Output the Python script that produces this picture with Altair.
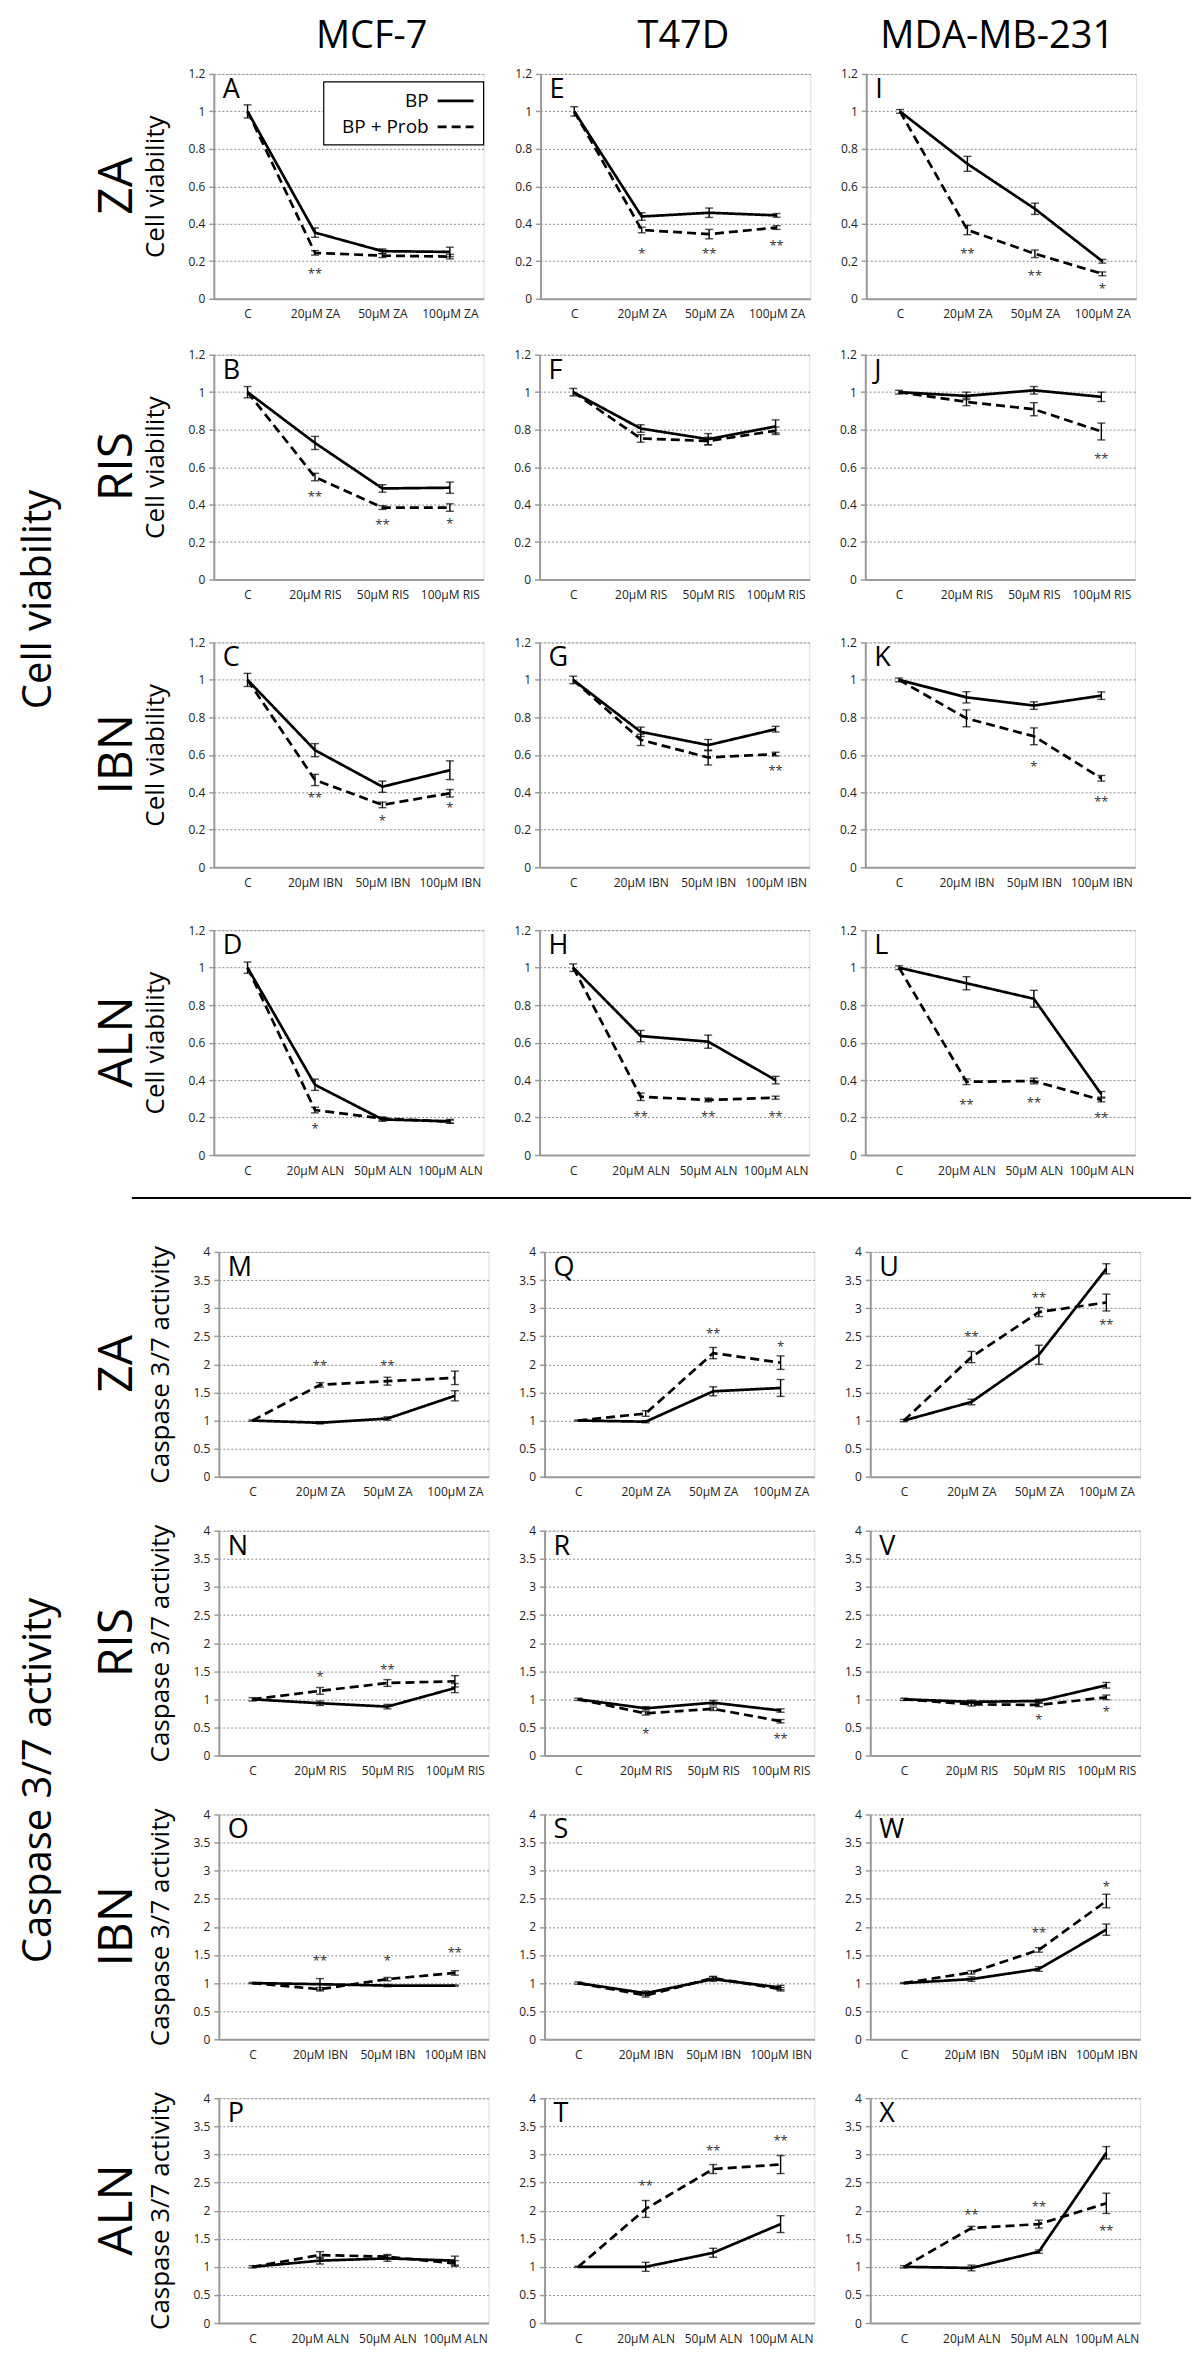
import altair as alt
import pandas as pd

FONT = "Open Sans"
INK = "black"
AXIS_GRAY = "#9a9a9a"

CELL_LINES = ["MCF-7", "T47D", "MDA-MB-231"]
HEADER_DX = [23, 8, -4]
DRUGS = ["ZA", "RIS", "IBN", "ALN"]
DOSES = ["C", "20μM", "50μM", "100μM"]
SERIES = ["BP", "BP + Prob"]
SECTION_TITLES = ["Cell viability", "Caspase 3/7 activity"]

CV_LETTERS = list("ABCDEFGHIJKL")
CA_LETTERS = list("MNOPQRSTUVWX")
CV_TICKS = [0, 0.2, 0.4, 0.6, 0.8, 1, 1.2]
CA_TICKS = [0, 0.5, 1, 1.5, 2, 2.5, 3, 3.5, 4]

# Cell viability, panels A-L (A-D MCF-7, E-H T47D, I-L MDA-MB-231; rows ZA, RIS, IBN, ALN)
CV_BP = [
    [1.0, 0.353, 0.254, 0.25],
    [1.0, 0.729, 0.486, 0.49],
    [1.0, 0.625, 0.43, 0.518],
    [1.0, 0.375, 0.19, 0.18],
    [1.0, 0.439, 0.459, 0.445],
    [1.0, 0.806, 0.749, 0.817],
    [1.0, 0.723, 0.652, 0.737],
    [1.0, 0.635, 0.605, 0.40],
    [1.0, 0.72, 0.48, 0.2],
    [1.0, 0.98, 1.01, 0.975],
    [1.0, 0.907, 0.863, 0.916],
    [1.0, 0.917, 0.834, 0.324],
]
CV_BP_ERR = [
    [0.035, 0.025, 0.012, 0.025],
    [0.03, 0.035, 0.02, 0.03],
    [0.035, 0.035, 0.03, 0.05],
    [0.03, 0.03, 0.01, 0.01],
    [0.025, 0.02, 0.025, 0.01],
    [0.02, 0.02, 0.03, 0.035],
    [0.02, 0.025, 0.03, 0.015],
    [0.02, 0.03, 0.035, 0.02],
    [0.01, 0.04, 0.03, 0.01],
    [0.01, 0.02, 0.02, 0.025],
    [0.01, 0.03, 0.02, 0.02],
    [0.01, 0.035, 0.045, 0.015],
]
CV_PROB = [
    [1.0, 0.245, 0.23, 0.225],
    [1.0, 0.547, 0.384, 0.384],
    [1.0, 0.466, 0.333, 0.395],
    [1.0, 0.24, 0.195, 0.178],
    [1.0, 0.367, 0.345, 0.38],
    [1.0, 0.753, 0.739, 0.794],
    [1.0, 0.68, 0.586, 0.604],
    [1.0, 0.311, 0.294, 0.306],
    [1.0, 0.367, 0.24, 0.133],
    [1.0, 0.948, 0.909, 0.79],
    [1.0, 0.795, 0.699, 0.475],
    [1.0, 0.391, 0.395, 0.294],
]
CV_PROB_ERR = [
    [0, 0.012, 0.01, 0.012],
    [0, 0.02, 0.01, 0.02],
    [0, 0.03, 0.015, 0.02],
    [0, 0.015, 0.008, 0.008],
    [0, 0.015, 0.025, 0.01],
    [0, 0.02, 0.02, 0.02],
    [0, 0.03, 0.04, 0.01],
    [0, 0.02, 0.01, 0.008],
    [0, 0.025, 0.02, 0.01],
    [0, 0.02, 0.035, 0.045],
    [0, 0.045, 0.045, 0.015],
    [0, 0.015, 0.015, 0.01],
]
CV_STARS = [
    [(1, "**", 0.146)],
    [(1, "**", 0.455), (2, "**", 0.306), (3, "*", 0.312)],
    [(1, "**", 0.388), (2, "*", 0.263), (3, "*", 0.332)],
    [(1, "*", 0.155)],
    [(1, "*", 0.255), (2, "**", 0.255), (3, "**", 0.296)],
    [],
    [(3, "**", 0.53)],
    [(1, "**", 0.218), (2, "**", 0.218), (3, "**", 0.218)],
    [(1, "**", 0.257), (2, "**", 0.14), (3, "*", 0.07)],
    [(3, "**", 0.66)],
    [(2, "*", 0.55), (3, "**", 0.363)],
    [(1, "**", 0.283), (2, "**", 0.294), (3, "**", 0.214)],
]

# Caspase 3/7 activity, panels M-X
CA_BP = [
    [1.0, 0.96, 1.035, 1.44],
    [1.0, 0.93, 0.87, 1.2],
    [1.0, 0.98, 0.955, 0.955],
    [1.0, 1.11, 1.15, 1.11],
    [1.0, 0.98, 1.52, 1.58],
    [1.0, 0.84, 0.94, 0.80],
    [1.0, 0.82, 1.07, 0.92],
    [1.0, 1.0, 1.25, 1.76],
    [1.0, 1.33, 2.17, 3.70],
    [1.0, 0.955, 0.97, 1.25],
    [1.0, 1.07, 1.25, 1.95],
    [1.0, 0.98, 1.27, 3.03],
]
CA_BP_ERR = [
    [0.01, 0.02, 0.03, 0.09],
    [0.03, 0.04, 0.04, 0.08],
    [0.01, 0.1, 0.02, 0.01],
    [0.02, 0.06, 0.05, 0.08],
    [0.01, 0.02, 0.08, 0.15],
    [0.02, 0.03, 0.04, 0.03],
    [0.02, 0.04, 0.04, 0.04],
    [0.01, 0.08, 0.08, 0.15],
    [0.02, 0.05, 0.17, 0.09],
    [0.02, 0.03, 0.03, 0.05],
    [0.01, 0.04, 0.04, 0.1],
    [0.02, 0.05, 0.03, 0.11],
]
CA_PROB = [
    [1.0, 1.635, 1.70, 1.76],
    [1.0, 1.15, 1.29, 1.32],
    [1.0, 0.89, 1.07, 1.18],
    [1.0, 1.21, 1.18, 1.06],
    [1.0, 1.125, 2.2, 2.03],
    [1.0, 0.75, 0.83, 0.61],
    [1.0, 0.78, 1.09, 0.89],
    [1.0, 2.03, 2.74, 2.82],
    [1.0, 2.13, 2.93, 3.1],
    [1.0, 0.91, 0.9, 1.035],
    [1.0, 1.19, 1.59, 2.46],
    [1.0, 1.69, 1.76, 2.13],
]
CA_PROB_ERR = [
    [0, 0.04, 0.07, 0.12],
    [0, 0.06, 0.06, 0.1],
    [0, 0.03, 0.03, 0.04],
    [0, 0.06, 0.04, 0.05],
    [0, 0.05, 0.1, 0.12],
    [0, 0.03, 0.03, 0.03],
    [0, 0.03, 0.03, 0.03],
    [0, 0.15, 0.08, 0.16],
    [0, 0.1, 0.08, 0.15],
    [0, 0.03, 0.03, 0.04],
    [0, 0.03, 0.04, 0.12],
    [0, 0.03, 0.07, 0.18],
]
CA_STARS = [
    [(1, "**", 2.03), (2, "**", 2.03)],
    [(1, "*", 1.455), (2, "**", 1.58)],
    [(1, "**", 1.45), (2, "*", 1.45), (3, "**", 1.58)],
    [],
    [(2, "**", 2.6), (3, "*", 2.37)],
    [(1, "*", 0.44), (3, "**", 0.34)],
    [],
    [(1, "**", 2.5), (2, "**", 3.12), (3, "**", 3.3)],
    [(1, "**", 2.54), (2, "**", 3.24), (3, "**", 2.76)],
    [(2, "*", 0.69), (3, "*", 0.82)],
    [(2, "**", 1.94), (3, "*", 2.77)],
    [(1, "**", 1.98), (2, "**", 2.11), (3, "**", 1.69)],
]

W, H = 270, 225
ONE = pd.DataFrame({"a": [0]})
NO_FRAME = alt.ViewBackground(stroke="transparent", strokeWidth=0)


def panel(section, col, row):
    i = col * 4 + row
    drug = DRUGS[row]
    cats = ["C"] + [f"{d} {drug}" for d in DOSES[1:]]
    if section == 0:
        bp, bpe, pr, pre, stars = CV_BP[i], CV_BP_ERR[i], CV_PROB[i], CV_PROB_ERR[i], CV_STARS[i]
        letter, ticks, ymax, drug_x = CV_LETTERS[i], CV_TICKS, 1.2, -96
    else:
        bp, bpe, pr, pre, stars = CA_BP[i], CA_BP_ERR[i], CA_PROB[i], CA_PROB_ERR[i], CA_STARS[i]
        letter, ticks, ymax, drug_x = CA_LETTERS[i], CA_TICKS, 4, -101

    recs = []
    for s, vals, errs in ((SERIES[0], bp, bpe), (SERIES[1], pr, pre)):
        for c, v, e in zip(cats, vals, errs):
            recs.append(dict(cat=c, series=s, value=v, lo=v - e, hi=v + e, err=e))
    df = pd.DataFrame(recs)
    edf = df[df["err"] > 0]

    xaxis = alt.Axis(title=None, labelAngle=0, ticks=False, grid=False, labelPadding=10,
                     labelFontSize=12, labelColor="#222", labelFont=FONT,
                     domainColor=AXIS_GRAY, domainWidth=2, minExtent=22, labelOverlap=False)
    xenc = alt.X("cat:N", sort=cats, scale=alt.Scale(type="point", padding=0.5), axis=xaxis)
    yscale = alt.Scale(domain=[0, ymax], nice=False)
    common = dict(values=ticks, format="~g", grid=True, gridColor="#8c8c8c", gridDash=[2, 2],
                  gridWidth=1, ticks=True, tickSize=5, tickColor=AXIS_GRAY, tickWidth=1.5,
                  domainColor=AXIS_GRAY, domainWidth=2, labelPadding=4, labelFontSize=12,
                  labelColor="#222", labelFont=FONT, minExtent=30)
    if col == 0:
        yaxis = alt.Axis(title=SECTION_TITLES[section], titleFontSize=26, titlePadding=15,
                         titleFontWeight="normal", titleColor=INK, titleFont=FONT, **common)
    else:
        yaxis = alt.Axis(title=None, **common)

    line = alt.Chart(df).mark_line(color=INK, strokeWidth=2.7).encode(
        x=xenc,
        y=alt.Y("value:Q", scale=yscale, axis=yaxis),
        strokeDash=alt.StrokeDash("series:N", sort=SERIES,
                                  scale=alt.Scale(domain=SERIES, range=[[1, 0], [9, 5]]),
                                  legend=None),
    )
    bars = alt.Chart(edf).mark_rule(color=INK, strokeWidth=1.4).encode(
        x=xenc, y=alt.Y("lo:Q", scale=yscale, axis=yaxis), y2="hi:Q")
    cap_lo = alt.Chart(edf).mark_tick(color=INK, size=8, thickness=1.4).encode(
        x=xenc, y=alt.Y("lo:Q", scale=yscale, axis=yaxis))
    cap_hi = alt.Chart(edf).mark_tick(color=INK, size=8, thickness=1.4).encode(
        x=xenc, y=alt.Y("hi:Q", scale=yscale, axis=yaxis))
    layers = [line, bars, cap_lo, cap_hi]

    if stars:
        sdf = pd.DataFrame([dict(cat=cats[k], label=lab, y=yv) for k, lab, yv in stars])
        layers.append(alt.Chart(sdf).mark_text(fontSize=13, color="#333", dy=3, font=FONT).encode(
            x=xenc, y=alt.Y("y:Q", scale=yscale, axis=yaxis), text="label:N"))

    layers.append(alt.Chart(ONE).mark_text(
        align="left", baseline="alphabetic", fontSize=27, font=FONT, color=INK).encode(
        x=alt.value(9), y=alt.value(24), text=alt.value(letter)))

    if col == 0:
        layers.append(alt.Chart(ONE).mark_text(
            angle=270, align="center", baseline="middle", fontSize=48, font=FONT, color=INK).encode(
            x=alt.value(drug_x), y=alt.value(112), text=alt.value(drug)))

    if section == 0 and col == 0 and row == 0:
        # legend box (labels left, line samples right)
        layers.append(alt.Chart(ONE).mark_rect(fill="white", stroke=INK, strokeWidth=1.2).encode(
            x=alt.value(110), x2=alt.value(270), y=alt.value(8), y2=alt.value(71)))
        for k, s in enumerate(SERIES):
            yy = 27 + 26 * k
            layers.append(alt.Chart(ONE).mark_text(
                align="right", baseline="middle", fontSize=19, font=FONT, color=INK).encode(
                x=alt.value(215), y=alt.value(yy), text=alt.value(s)))
            rule_kw = dict(color=INK, strokeWidth=2.7)
            if k == 1:
                rule_kw["strokeDash"] = [9, 5]
            layers.append(alt.Chart(ONE).mark_rule(**rule_kw).encode(
                x=alt.value(224), x2=alt.value(260), y=alt.value(yy)))

    ch = alt.layer(*layers).properties(width=W, height=H)
    if section == 0 and row == 0:
        ch = ch.properties(title=alt.TitleParams(text=CELL_LINES[col], fontSize=38, font=FONT,
                                                 fontWeight="normal", color=INK, anchor="middle",
                                                 dx=HEADER_DX[col], offset=12))
    return ch


def make_row(section, row):
    return alt.hconcat(*[panel(section, c, row) for c in range(3)], spacing=24)


def big_label(text, yc):
    return alt.Chart(ONE).mark_text(
        angle=270, align="center", baseline="middle", fontSize=40, font=FONT, color=INK).encode(
        x=alt.value(29), y=alt.value(yc), text=alt.value(text)).properties(
        width=52, height=1000, view=NO_FRAME)


cv_stack = alt.vconcat(
    make_row(0, 0),
    alt.vconcat(make_row(0, 1), make_row(0, 2), make_row(0, 3), spacing=33),
    spacing=26)
ca_stack = alt.vconcat(
    make_row(1, 0),
    alt.vconcat(make_row(1, 1), make_row(1, 2), make_row(1, 3), spacing=29),
    spacing=24)

cv_block = alt.hconcat(big_label(SECTION_TITLES[0], 526), cv_stack, spacing=31)
ca_block = alt.hconcat(big_label(SECTION_TITLES[1], 529), ca_stack, spacing=31)

sep = alt.Chart(ONE).mark_rule(color=INK, strokeWidth=2).encode(
    x=alt.value(122), x2=alt.value(1182), y=alt.value(20)).properties(
    width=1182, height=67, view=NO_FRAME)

chart = alt.vconcat(cv_block, sep, ca_block, spacing=0).properties(
    padding={"left": 2, "top": 8, "right": 0, "bottom": 0}, background="white"
).configure_view(stroke="transparent", strokeWidth=0).configure(font=FONT)

chart.save("out.html", embed_options={"renderer": "svg", "actions": False})
